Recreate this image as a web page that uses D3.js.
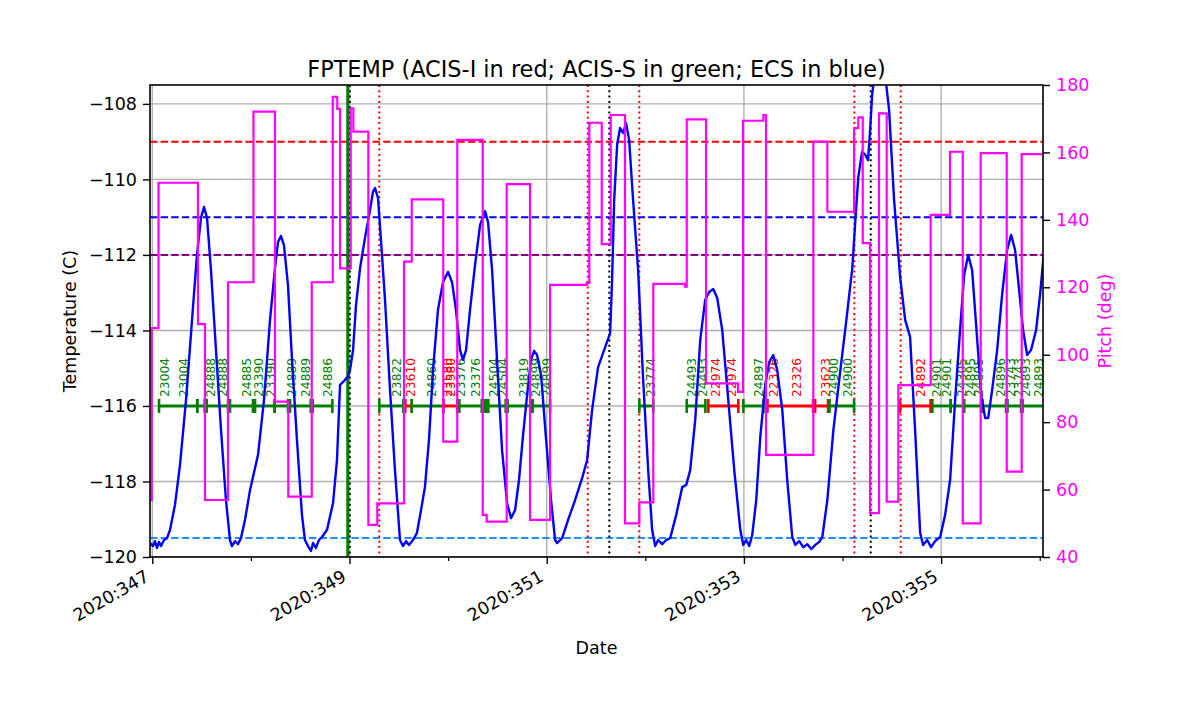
<!DOCTYPE html>
<html>
<head>
<meta charset="utf-8">
<script src="https://cdn.jsdelivr.net/npm/d3@7"></script>
<style>
  body { margin: 0; background: #fff; }
  svg { font-family: "DejaVu Sans", sans-serif; }
</style>
</head>
<body>
<svg id="chart" width="1200" height="714"></svg>
<script>
// FPTEMP model curve: [day of year 2020, temperature C]
const tempSeries = [
  [346.977,-119.63],[347.007,-119.71],[347.027,-119.58],[347.048,-119.76],[347.068,-119.60],[347.088,-119.71],
  [347.119,-119.55],[347.149,-119.50],[347.180,-119.28],[347.230,-118.62],[347.281,-117.56],[347.342,-115.84],
  [347.403,-113.72],[347.453,-112.00],[347.494,-111.02],[347.524,-110.73],[347.555,-111.02],[347.595,-112.40],
  [347.646,-114.52],[347.697,-116.64],[347.747,-118.49],[347.788,-119.55],[347.808,-119.71],[347.839,-119.58],
  [347.869,-119.66],[347.899,-119.50],[347.940,-119.02],[347.991,-118.23],[348.021,-117.88],[348.072,-117.30],
  [348.133,-115.84],[348.194,-113.72],[348.244,-112.35],[348.275,-111.66],[348.305,-111.50],[348.335,-111.74],
  [348.376,-112.80],[348.417,-114.78],[348.467,-116.90],[348.518,-118.89],[348.548,-119.55],[348.579,-119.71],
  [348.609,-119.84],[348.630,-119.63],[348.660,-119.76],[348.690,-119.55],[348.721,-119.47],[348.772,-119.28],
  [348.833,-118.57],[348.873,-117.43],[348.904,-115.44],[348.944,-115.34],[348.985,-115.21],[349.005,-115.05],
  [349.036,-114.52],[349.066,-113.33],[349.107,-112.35],[349.157,-111.55],[349.208,-110.81],[349.238,-110.33],
  [349.259,-110.23],[349.289,-110.49],[349.319,-111.60],[349.360,-113.19],[349.411,-115.58],[349.461,-117.70],
  [349.512,-119.55],[349.542,-119.71],[349.573,-119.58],[349.603,-119.68],[349.644,-119.55],[349.684,-119.36],
  [349.725,-118.76],[349.765,-118.15],[349.806,-116.90],[349.847,-115.05],[349.897,-113.46],[349.948,-112.72],
  [349.999,-112.45],[350.040,-112.72],[350.080,-113.46],[350.121,-114.52],[350.151,-114.78],[350.182,-114.52],
  [350.222,-113.46],[350.273,-112.27],[350.324,-111.21],[350.374,-110.84],[350.405,-111.13],[350.446,-112.40],
  [350.496,-114.78],[350.547,-117.17],[350.598,-118.57],[350.638,-118.97],[350.679,-118.76],[350.719,-117.96],
  [350.760,-116.77],[350.801,-115.71],[350.841,-114.78],[350.872,-114.54],[350.902,-114.65],[350.943,-115.18],
  [350.994,-116.90],[351.044,-118.49],[351.085,-119.55],[351.105,-119.63],[351.156,-119.50],[351.217,-119.02],
  [351.288,-118.49],[351.359,-117.91],[351.410,-117.43],[351.460,-116.11],[351.521,-114.97],[351.582,-114.52],
  [351.643,-114.07],[351.663,-112.66],[351.684,-110.55],[351.714,-109.09],[351.744,-108.64],[351.775,-108.77],
  [351.805,-108.51],[351.836,-108.96],[351.876,-110.55],[351.927,-112.40],[351.978,-115.31],[352.029,-117.70],
  [352.069,-119.28],[352.100,-119.71],[352.130,-119.55],[352.171,-119.66],[352.212,-119.55],[352.252,-119.50],
  [352.313,-118.89],[352.374,-118.15],[352.415,-118.09],[352.455,-117.70],[352.506,-116.37],[352.557,-114.25],
  [352.607,-113.19],[352.648,-112.98],[352.689,-112.90],[352.729,-113.14],[352.780,-113.99],[352.841,-115.84],
  [352.902,-117.70],[352.963,-119.28],[352.993,-119.68],[353.023,-119.55],[353.054,-119.71],[353.084,-119.42],
  [353.125,-118.49],[353.166,-116.82],[353.216,-115.44],[353.257,-114.84],[353.297,-114.65],[353.338,-115.05],
  [353.389,-116.11],[353.439,-117.96],[353.490,-119.47],[353.521,-119.68],[353.561,-119.58],[353.602,-119.74],
  [353.643,-119.66],[353.683,-119.79],[353.724,-119.68],[353.764,-119.60],[353.795,-119.47],[353.846,-118.49],
  [353.907,-116.64],[353.978,-115.05],[354.039,-113.72],[354.099,-112.35],[354.130,-111.08],[354.160,-109.94],
  [354.198,-109.27],[354.231,-109.35],[354.259,-109.49],[354.280,-108.69],[354.300,-107.76],[354.331,-107.10],
  [354.381,-106.89],[354.432,-107.23],[354.472,-108.16],[354.523,-110.55],[354.584,-112.58],[354.635,-113.72],
  [354.685,-114.17],[354.736,-116.64],[354.787,-119.36],[354.817,-119.68],[354.858,-119.55],[354.898,-119.74],
  [354.939,-119.58],[354.990,-119.47],[355.040,-118.89],[355.091,-117.96],[355.142,-115.84],[355.192,-113.99],
  [355.233,-112.53],[355.274,-112.00],[355.314,-112.40],[355.355,-113.86],[355.406,-115.71],[355.446,-116.32],
  [355.477,-116.32],[355.517,-115.58],[355.568,-114.52],[355.618,-113.06],[355.669,-111.87],[355.710,-111.47],
  [355.750,-111.87],[355.791,-112.93],[355.831,-113.99],[355.872,-114.65],[355.912,-114.52],[355.963,-113.99],
  [356.003,-113.06],[356.043,-111.92]
];

// pitch (deg), value holds from each day until the next entry
const pitchSteps = [
  [346.977,56.9],[346.994,107.9],[347.063,151.0],[347.463,109.1],[347.534,56.9],[347.768,121.5],
  [348.026,172.1],[348.244,86.1],[348.379,57.9],[348.617,121.5],[348.830,176.5],[348.876,172.9],
  [348.904,125.6],[349.012,173.1],[349.039,166.2],[349.191,49.5],[349.282,55.9],[349.553,127.6],
  [349.631,146.1],[349.951,74.2],[350.093,163.7],[350.351,52.5],[350.391,50.5],[350.594,150.6],
  [350.831,51.0],[351.034,120.7],[351.406,121.3],[351.432,168.8],[351.558,132.8],[351.649,171.1],
  [351.794,50.0],[351.939,56.2],[352.081,121.0],[352.403,120.2],[352.420,169.8],[352.616,91.5],
  [352.940,89.0],[352.991,169.4],[353.197,171.1],[353.224,70.3],[353.704,163.2],[353.846,142.4],
  [354.117,167.2],[354.160,170.4],[354.205,133.1],[354.279,53.0],[354.370,171.6],[354.448,56.4],
  [354.566,91.0],[354.894,141.5],[355.090,160.2],[355.219,50.0],[355.401,159.8],[355.665,65.3],
  [355.817,159.5],[356.033,159.5]
];

// observation intervals drawn at -116 C (I = ACIS-I, S = ACIS-S)
const obsIntervals = [
  [347.068,347.456,"S"],[347.456,347.531,"S"],[347.552,347.768,"S"],[347.788,348.021,"S"],
  [348.042,348.241,"S"],[348.241,348.376,"S"],[348.397,348.607,"S"],[348.627,348.826,"S"],
  [349.302,349.546,"S"],[349.566,349.631,"I"],[349.631,349.951,"S"],[349.951,350.093,"I"],
  [350.114,350.341,"S"],[350.361,350.387,"S"],[350.408,350.584,"S"],[350.604,350.838,"S"],
  [350.858,351.034,"S"],[351.939,352.081,"S"],[352.420,352.609,"S"],[352.639,352.943,"I"],
  [352.994,353.199,"S"],[353.239,353.701,"I"],[353.722,353.853,"I"],[353.868,354.117,"S"],
  [354.583,354.893,"I"],[354.911,355.097,"S"],[355.097,355.232,"S"],[355.232,355.405,"S"],
  [355.420,355.658,"S"],[355.673,355.810,"S"],[355.826,356.200,"S"]
];

// obsid labels: [day, obsid, instrument]
const obsLabels = [
  [347.119,"23004","S"],[347.314,"23004","S"],[347.592,"24888","S"],[347.714,"24888","S"],
  [347.957,"24885","S"],[348.075,"23390","S"],[348.194,"23390","S"],[348.414,"24889","S"],
  [348.549,"24889","S"],[348.775,"24886","S"],[349.479,"23822","S"],[349.621,"23610","I"],
  [349.827,"24860","S"],[349.994,"23580","I"],[350.024,"23580","I"],[350.126,"23376","S"],
  [350.278,"23376","S"],[350.458,"24504","S"],[350.554,"24504","S"],[350.763,"23819","S"],
  [350.886,"24899","S"],[350.996,"24899","S"],[352.053,"23774","S"],[352.471,"24493","S"],
  [352.578,"24493","S"],[352.707,"22974","I"],[352.876,"22974","I"],[353.146,"24897","S"],
  [353.295,"22326","I"],[353.535,"22326","I"],[353.828,"23623","I"],[353.907,"24900","S"],
  [354.051,"24900","S"],[354.786,"24892","I"],[354.951,"24901","S"],[355.055,"24901","S"],
  [355.209,"24305","S"],[355.298,"24895","S"],[355.377,"24895","S"],[355.597,"24896","S"],
  [355.706,"23743","S"],[355.783,"23743","S"],[355.851,"24893","S"],[355.986,"24893","S"]
];

const limitLines = [[-109,"acisI"],[-111,"ecs"],[-112,"acisS"],[-119.5,"low"]];
const radZoneLines = [349.302, 351.416, 351.939, 354.120, 354.590];
const perigeeLines = [349.003, 351.635, 354.286];
const loadStartLines = [348.982];

const xMajorTicks = [347, 349, 351, 353, 355];
const xMinorTicks = [348, 350, 352, 354, 356];
const tempTicks = [-120, -118, -116, -114, -112, -110, -108];
const pitchTicks = [40, 60, 80, 100, 120, 140, 160, 180];
const obsRowTemp = -116;

const instColor = { I: "#ff0000", S: "#008000" };
const limitColor = { acisI: "#ff0000", ecs: "#0000ff", acisS: "#800080", low: "#1e90ff" };

const plotLeft = 150, plotRight = 1043, plotTop = 85, plotBottom = 557;

const svg = d3.select("#chart");

const x = d3.scaleLinear().domain([346.9767, 356.033]).range([plotLeft, plotRight]);
const y = d3.scaleLinear().domain([-120, -107.5]).range([plotBottom, plotTop]);
const y2 = d3.scaleLinear().domain([40, 180]).range([plotBottom, plotTop]);

svg.append("defs").append("clipPath").attr("id", "plot-clip")
    .append("rect")
    .attr("x", plotLeft).attr("y", plotTop)
    .attr("width", plotRight - plotLeft).attr("height", plotBottom - plotTop);

const plot = svg.append("g").attr("clip-path", "url(#plot-clip)");

// grid
plot.selectAll(".vgrid").data(xMajorTicks).enter().append("line")
    .attr("x1", d => x(d)).attr("x2", d => x(d))
    .attr("y1", plotTop).attr("y2", plotBottom)
    .attr("stroke", "#b0b0b0").attr("stroke-width", 1.4);
plot.selectAll(".hgrid").data(tempTicks).enter().append("line")
    .attr("x1", plotLeft).attr("x2", plotRight)
    .attr("y1", d => y(d)).attr("y2", d => y(d))
    .attr("stroke", "#b0b0b0").attr("stroke-width", 1.4);

// limit lines
plot.selectAll(".limit").data(limitLines).enter().append("line")
    .attr("x1", plotLeft).attr("x2", plotRight)
    .attr("y1", d => y(d[0])).attr("y2", d => y(d[0]))
    .attr("stroke", d => limitColor[d[1]])
    .attr("stroke-width", 2)
    .attr("stroke-dasharray", "7.4,3.2");

// vertical event lines
plot.selectAll(".load").data(loadStartLines).enter().append("line")
    .attr("x1", d => x(d)).attr("x2", d => x(d))
    .attr("y1", plotTop).attr("y2", plotBottom)
    .attr("stroke", "#008000").attr("stroke-width", 3);
plot.selectAll(".perigee").data(perigeeLines).enter().append("line")
    .attr("x1", d => x(d)).attr("x2", d => x(d))
    .attr("y1", plotTop).attr("y2", plotBottom)
    .attr("stroke", "#000").attr("stroke-width", 2)
    .attr("stroke-dasharray", "2,3.3");
plot.selectAll(".radzone").data(radZoneLines).enter().append("line")
    .attr("x1", d => x(d)).attr("x2", d => x(d))
    .attr("y1", plotTop).attr("y2", plotBottom)
    .attr("stroke", "#ff0000").attr("stroke-width", 2)
    .attr("stroke-dasharray", "2,3.3");

// observation bars with end ticks
const yo = y(obsRowTemp);
const obs = plot.selectAll(".obs").data(obsIntervals).enter().append("g");
obs.append("line")
    .attr("x1", d => x(d[0])).attr("x2", d => x(d[1]))
    .attr("y1", yo).attr("y2", yo)
    .attr("stroke", d => instColor[d[2]]).attr("stroke-width", 3);
obs.append("line")
    .attr("x1", d => x(d[0])).attr("x2", d => x(d[0]))
    .attr("y1", yo - 7).attr("y2", yo + 7)
    .attr("stroke", d => instColor[d[2]]).attr("stroke-width", 2.6);
obs.append("line")
    .attr("x1", d => x(d[1])).attr("x2", d => x(d[1]))
    .attr("y1", yo - 7).attr("y2", yo + 7)
    .attr("stroke", d => instColor[d[2]]).attr("stroke-width", 2.6);

plot.selectAll(".obslabel").data(obsLabels).enter().append("text")
    .attr("transform", d => `translate(${x(d[0]) + 4.6},${yo - 9}) rotate(-90)`)
    .attr("text-anchor", "start")
    .attr("font-size", "12.3px")
    .attr("fill", d => instColor[d[2]])
    .text(d => d[1]);

// temperature
plot.append("path")
    .datum(tempSeries)
    .attr("fill", "none")
    .attr("stroke", "#0000ff")
    .attr("stroke-width", 2.4)
    .attr("stroke-linejoin", "round")
    .attr("d", d3.line().x(d => x(d[0])).y(d => y(d[1])));

// pitch on the twin axis
plot.append("path")
    .datum(pitchSteps)
    .attr("fill", "none")
    .attr("stroke", "#ff00ff")
    .attr("stroke-width", 2.2)
    .attr("d", d3.line().curve(d3.curveStepAfter).x(d => x(d[0])).y(d => y2(d[1])));

// frame
svg.append("rect")
    .attr("x", plotLeft).attr("y", plotTop)
    .attr("width", plotRight - plotLeft).attr("height", plotBottom - plotTop)
    .attr("fill", "none").attr("stroke", "#000").attr("stroke-width", 1.6);

// left axis
const leftAxis = svg.append("g").attr("transform", `translate(${plotLeft},0)`)
    .call(d3.axisLeft(y).tickValues(tempTicks).tickSize(7).tickPadding(6)
        .tickFormat(d => d3.format("d")(d).replace("-", "\u2212")));
leftAxis.select(".domain").remove();
leftAxis.selectAll(".tick line").attr("stroke-width", 1.4);
leftAxis.selectAll("text").attr("font-size", "17.5px").attr("font-family", "DejaVu Sans");

// right axis
const rightAxis = svg.append("g").attr("transform", `translate(${plotRight},0)`)
    .call(d3.axisRight(y2).tickValues(pitchTicks).tickSize(7).tickPadding(6));
rightAxis.select(".domain").remove();
rightAxis.selectAll(".tick line").attr("stroke-width", 1.4);
rightAxis.selectAll("text").attr("font-size", "17.5px").attr("font-family", "DejaVu Sans")
    .attr("fill", "#ff00ff");

// bottom axis
const bottomAxis = svg.append("g").attr("transform", `translate(0,${plotBottom})`)
    .call(d3.axisBottom(x).tickValues(xMajorTicks).tickSize(7).tickFormat(""));
bottomAxis.select(".domain").remove();
bottomAxis.selectAll(".tick line").attr("stroke-width", 1.4);
const minorAxis = svg.append("g").attr("transform", `translate(0,${plotBottom})`)
    .call(d3.axisBottom(x).tickValues(xMinorTicks.filter(d => x(d) <= plotRight)).tickSize(4).tickFormat(""));
minorAxis.select(".domain").remove();
minorAxis.selectAll(".tick line").attr("stroke-width", 1.2);

svg.selectAll(".xlabel").data(xMajorTicks).enter().append("text")
    .attr("transform", d => `translate(${x(d) - 2},${plotBottom + 23}) rotate(-30)`)
    .attr("text-anchor", "end")
    .attr("font-size", "17.5px")
    .attr("fill", "#000")
    .text(d => `2020:${d}`);

// titles
svg.append("text")
    .attr("x", (plotLeft + plotRight) / 2).attr("y", 77)
    .attr("text-anchor", "middle")
    .attr("font-size", "22.4px")
    .text("FPTEMP (ACIS-I in red; ACIS-S in green; ECS in blue)");

svg.append("text")
    .attr("x", (plotLeft + plotRight) / 2).attr("y", 654)
    .attr("text-anchor", "middle")
    .attr("font-size", "17.5px")
    .text("Date");

svg.append("text")
    .attr("transform", `translate(76,${(plotTop + plotBottom) / 2}) rotate(-90)`)
    .attr("text-anchor", "middle")
    .attr("font-size", "17.5px")
    .text("Temperature (C)");

svg.append("text")
    .attr("transform", `translate(1111,${(plotTop + plotBottom) / 2}) rotate(-90)`)
    .attr("text-anchor", "middle")
    .attr("font-size", "17.5px")
    .attr("fill", "#ff00ff")
    .text("Pitch (deg)");
</script>
</body>
</html>
